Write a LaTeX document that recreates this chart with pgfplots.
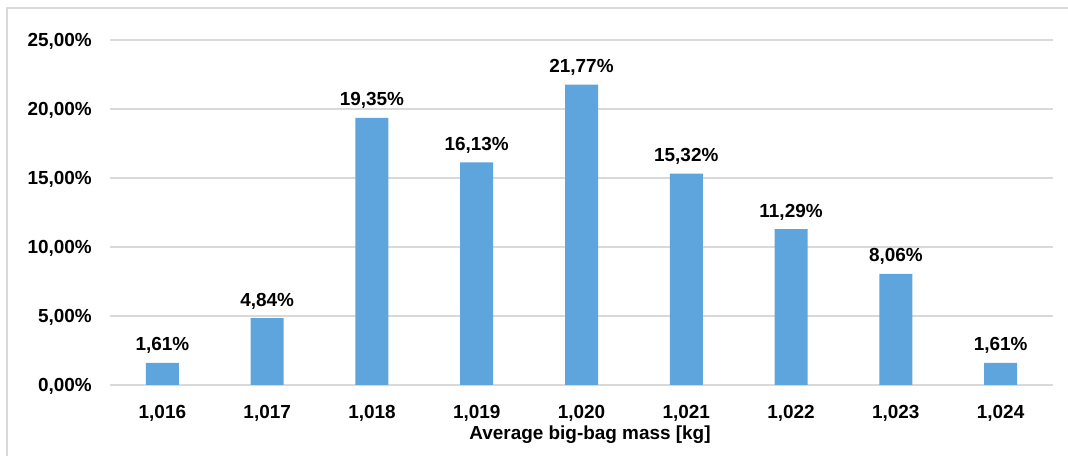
\documentclass[border=0pt]{standalone}
\usepackage{fontspec}
\setmainfont{Liberation Sans}
\usepackage{pgfplots}
\pgfplotsset{compat=1.18}
\definecolor{barblue}{HTML}{5DA5DC}
\definecolor{gridgray}{HTML}{D9D9D9}
\begin{document}
\begin{tikzpicture}[x=1bp,y=1bp]
\useasboundingbox (0,0) rectangle (1068,456);
\draw[gridgray, line width=1.5bp] (7,0) -- (7,448) -- (1068,448);
\begin{axis}[
  at={(110bp,71bp)}, anchor=south west,
  scale only axis, width=943bp, height=345bp,
  xmin=-0.5, xmax=8.5, ymin=0, ymax=25,
  ybar, bar width=33bp,
  axis line style={draw=none}, tick style={draw=none},
  ymajorgrids, grid style={gridgray, line width=1.5bp},
  ytick={0,5,10,15,20,25}, xtick={0,...,8},
  xticklabels={{1,016},{1,017},{1,018},{1,019},{1,020},{1,021},{1,022},{1,023},{1,024}},
  /pgf/number format/assume math mode=true,
  yticklabel={\pgfmathprintnumber[fixed,fixed zerofill,precision=2,use comma]{\tick}\%},
  yticklabel style={font=\fontsize{19}{22}\selectfont\bfseries, anchor=base east, inner sep=0pt, xshift=-18bp, yshift=-7bp},
  xticklabel style={font=\fontsize{19}{22}\selectfont\bfseries, anchor=base, inner sep=0pt, yshift=-29bp},
  nodes near coords={\pgfmathprintnumber[fixed,fixed zerofill,precision=2,use comma]{\pgfplotspointmeta}\%},
  every node near coord/.append style={font=\fontsize{19}{22}\selectfont\bfseries, color=black, anchor=base, inner sep=0pt, yshift=12bp},
  xlabel={Average big-bag mass [kg]},
  xlabel style={font=\fontsize{19}{22}\selectfont\bfseries, at={(axis description cs:0.509,0)}, anchor=base, inner sep=0pt, yshift=-55bp},
]
\addplot[fill=barblue, draw=none] coordinates {(0,1.61) (1,4.84) (2,19.35) (3,16.13) (4,21.77) (5,15.32) (6,11.29) (7,8.06) (8,1.61)};
\end{axis}
\end{tikzpicture}
\end{document}
